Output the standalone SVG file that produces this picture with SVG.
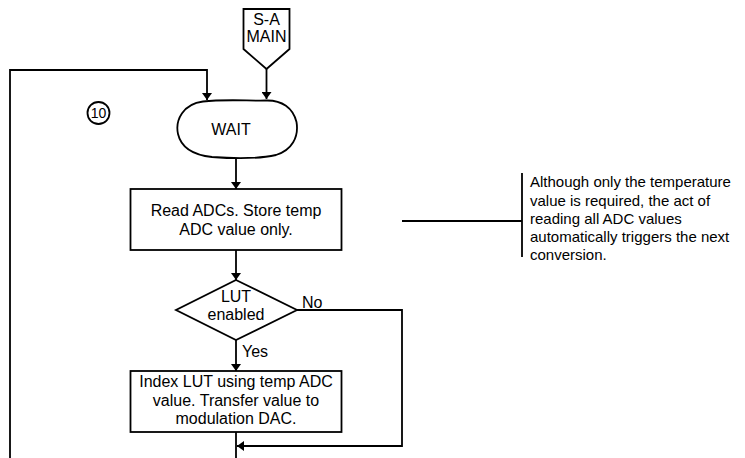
<svg xmlns="http://www.w3.org/2000/svg" width="745" height="458" viewBox="0 0 745 458">
<style>
.s{fill:none;stroke:#000;stroke-width:1.8}
.n{fill:#fff;stroke:#000;stroke-width:1.8}
.t{font-family:"Liberation Sans",Arial,sans-serif;font-size:16px;fill:#000}
.c{text-anchor:middle}
.a{font-family:"Liberation Sans",Arial,sans-serif;font-size:15px;fill:#000}
</style>
<defs>
<marker id="ah" markerUnits="userSpaceOnUse" markerWidth="7" markerHeight="10" refX="7" refY="5" orient="auto" viewBox="0 0 7 10">
<path d="M0,0 L7,5 L0,10 Z" fill="#000"/>
</marker>
</defs>
<g id="connectors">
<path class="s" d="M266.5,69 L266.5,99" marker-end="url(#ah)"/>
<path class="s" d="M10,458 L10,70 L207,70 L207,100" marker-end="url(#ah)"/>
<path class="s" d="M236,159 L236,189" marker-end="url(#ah)"/>
<path class="s" d="M236,250 L236,280" marker-end="url(#ah)"/>
<path class="s" d="M236,340 L236,371" marker-end="url(#ah)"/>
<path class="s" d="M297,310 L402,310 L402,446 L237,446" marker-end="url(#ah)"/>
<path class="s" d="M236,432 L236,458"/>
<path class="s" d="M402,221 L522,221"/>
<text class="t" x="302" y="308">No</text>
<text class="t" x="242" y="357">Yes</text>
</g>
<g id="start">
<path class="n" d="M243.5,9 L289.5,9 L289.5,49 L266.5,69 L243.5,49 Z"/>
<text class="t c" x="266.5" y="25">S-A</text>
<text class="t c" x="266.5" y="42">MAIN</text>
</g>
<g id="ref10">
<circle class="n" cx="98.5" cy="113" r="11"/>
<text class="t c" x="98.5" y="118" style="font-size:14px">10</text>
</g>
<g id="wait">
<path class="n" d="M203,101.5 C225,99 250,101 266,100.5 C282,100 293,108 296.5,122 C299,137 292,150 276,155 C258,159 232,158.5 212,157 C193,155 181,147 178,134 C175,120 183,104 203,101.5 Z"/>
<text class="t c" x="231" y="135">WAIT</text>
</g>
<g id="read">
<rect class="n" x="130.5" y="189" width="211" height="61"/>
<text class="t c" x="236" y="216">Read ADCs. Store temp</text>
<text class="t c" x="236" y="235">ADC value only.</text>
</g>
<g id="decision">
<path class="n" d="M236,280 L297,310 L236,340 L176,310 Z"/>
<text class="t c" x="236" y="302">LUT</text>
<text class="t c" x="236" y="320">enabled</text>
</g>
<g id="index">
<rect class="n" x="130.5" y="371" width="211" height="61"/>
<text class="t c" x="236" y="387">Index LUT using temp ADC</text>
<text class="t c" x="236" y="405.5">value. Transfer value to</text>
<text class="t c" x="236" y="424">modulation DAC.</text>
</g>
<g id="note">
<path class="s" d="M522,173 L522,257"/>
<text class="a" x="530" y="187">Although only the temperature</text>
<text class="a" x="530" y="205.5">value is required, the act of</text>
<text class="a" x="530" y="224">reading all ADC values</text>
<text class="a" x="530" y="242">automatically triggers the next</text>
<text class="a" x="530" y="260">conversion.</text>
</g>
</svg>
